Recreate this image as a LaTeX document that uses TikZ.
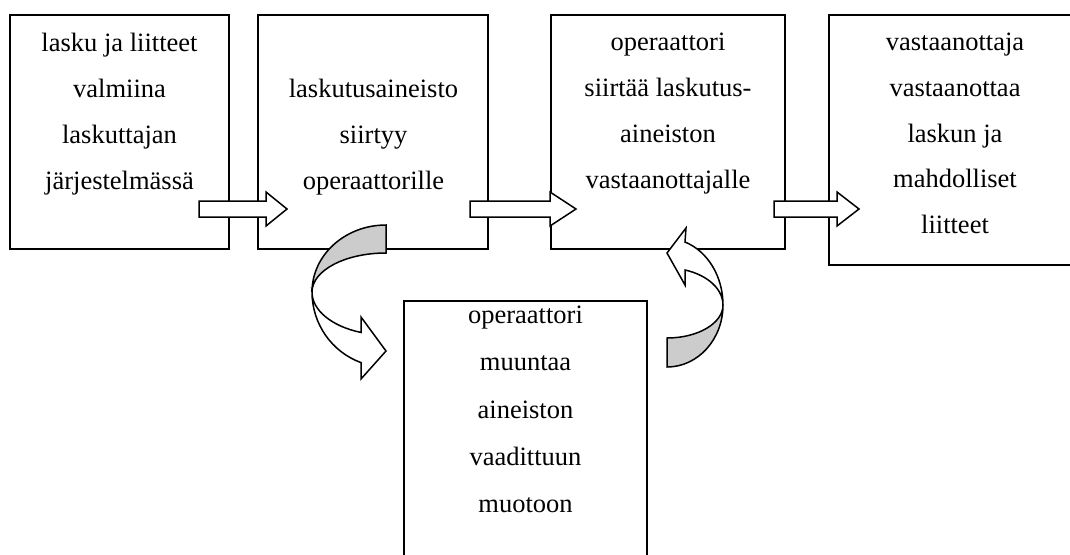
\documentclass[tikz,border=0pt]{standalone}
\usepackage{fontspec}
\setmainfont{Liberation Serif}
\definecolor{bandgray}{RGB}{204,204,204}
\begin{document}
\begin{tikzpicture}[x=1pt,y=-1pt,line join=miter,
  box/.style={draw,line width=1.5pt,inner sep=0pt},
  txt/.style={align=center,font=\fontsize{26.5}{46}\selectfont,inner sep=0pt,anchor=base},
  blk/.style={draw,fill=white,line width=1.5pt},
  band/.style={draw,fill=bandgray,line width=1.5pt}]
\path[use as bounding box,clip] (0,0) rectangle (1070,554);
\fill[white] (0,0) rectangle (1070,554);
% boxes
\node[box,minimum width=219pt,minimum height=234pt] (b1) at (119.5,132) {};
\node[box,minimum width=230pt,minimum height=234pt] (b2) at (373,132) {};
\node[box,minimum width=234pt,minimum height=234pt] (b3) at (668,132) {};
\node[box,minimum width=252pt,minimum height=250pt] (b4) at (955,140) {};
\node[box,minimum width=243pt,minimum height=274pt] (b5) at (525.5,438) {};
% texts (anchored at the baseline of the last line)
\node[txt] (t1) at (119.5,189.3) {lasku ja liitteet\\valmiina\\laskuttajan\\järjestelmässä};
\node[txt] (t2) at (373.5,189.5) {laskutusaineisto\\siirtyy\\operaattorille};
\node[txt] (t3) at (668,188.5) {operaattori\\siirtää laskutus-\\aineiston\\vastaanottajalle};
\node[txt,font=\fontsize{26.5}{45.7}\selectfont] (t4) at (955,233.5) {vastaanottaja\\vastaanottaa\\laskun ja\\mahdolliset\\liitteet};
\node[txt,font=\fontsize{26.5}{47.3}\selectfont] (t5) at (525.5,512.7) {operaattori\\muuntaa\\aineiston\\vaadittuun\\muotoon};
% straight block arrows
\draw[blk] (199,201) -- (266,201) -- (266,192) -- (287,209) -- (266,226) -- (266,217) -- (199,217) -- cycle;
\draw[blk] (470,201) -- (550,201) -- (550,192) -- (576,209) -- (550,226) -- (550,217) -- (470,217) -- cycle;
\draw[blk] (774,201) -- (837,201) -- (837,192) -- (859,209) -- (837,226) -- (837,217) -- (774,217) -- cycle;
% left curved arrow
\draw[band] (386,253) -- (386,225) arc[start angle=270,end angle=180,x radius=74,y radius=67]
  arc[start angle=180,end angle=270,x radius=74,y radius=39] -- cycle;
\draw[blk] (312,292) arc[start angle=180,end angle=109.75,x radius=74,y radius=43]
  -- (361,317) -- (386,351) -- (361,379) -- (361,362.6)
  arc[start angle=109.75,end angle=180,x radius=74,y radius=75] -- cycle;
% right curved arrow
\draw[band] (667,338) -- (667,367) arc[start angle=90,end angle=0,x radius=56,y radius=62]
  arc[start angle=0,end angle=90,x radius=56,y radius=33] -- cycle;
\draw[blk] (723,305) arc[start angle=0,end angle=-71.25,x radius=56,y radius=66.5]
  -- (686,228) -- (667,253) -- (685,285) -- (685,270)
  arc[start angle=-71.25,end angle=0,x radius=56,y radius=37] -- cycle;
\end{tikzpicture}
\end{document}
